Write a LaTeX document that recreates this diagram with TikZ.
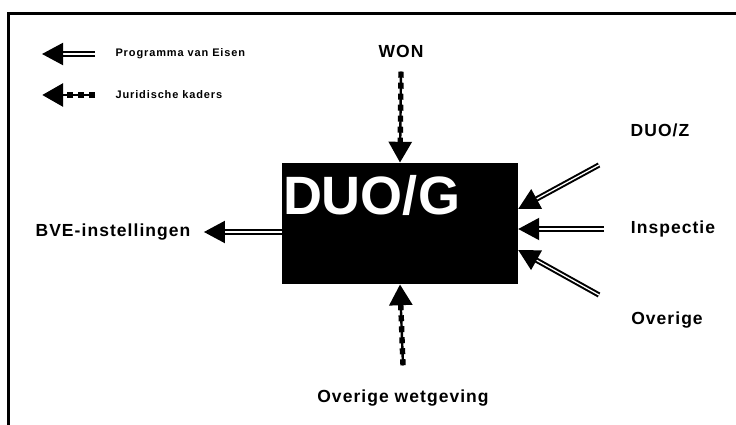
\documentclass[tikz,border=0pt]{standalone}
\usepackage{fontspec}
\setmainfont{Liberation Sans}
\usetikzlibrary{arrows.meta}
\begin{document}
\begin{tikzpicture}[x=1pt,y=-1pt,
        lbl/.style={font=\bfseries\fontsize{17.5}{20}\selectfont\addfontfeatures{LetterSpace=6}},
        small/.style={anchor=west,font=\bfseries\fontsize{11}{13}\selectfont\addfontfeatures{LetterSpace=8}},
        pve/.style={line width=2pt,double=white,double distance=1.3pt,-{Triangle[length=21pt,width=22pt]}},
        jur/.style={line width=5.4pt,dash pattern=on 6pt off 5pt,-{Triangle[length=21pt,width=22pt]},
            preaction={draw,solid,line width=2.4pt,-,shorten >=12pt}}]
    \useasboundingbox (0,0) rectangle (736,425);
    % frame
    \draw[line width=3pt] (8,430) -- (8,14) -- (745,14);
    % legend
    \node[small] (pvel) at (112,54) {Programma van Eisen};
    \node[small] (jurl) at (112,95) {Juridische kaders};
    \coordinate (pvetip) at (42,54);
    \coordinate (jurtip) at (42,95);
    \draw[pve] ([xshift=-17pt]pvel.west) -- (pvetip);
    \draw[jur] ([xshift=-17pt]jurl.west) -- (jurtip);
    % centre box
    \node[fill=black,minimum width=236pt,minimum height=121pt,inner sep=0] (duog) at (400,223.5) {};
    \node[anchor=north west,inner sep=0,text=white,font=\bfseries\fontsize{54}{60}\selectfont] (duogt) at ([shift={(1pt,-12pt)}]duog.north west) {DUO/G};
    % labels
    \node[lbl] (won) at (401,51) {WON};
    \node[lbl] (ovw) at (403,398) {Overige wetgeving};
    \node[lbl] (bve) at (113,232) {BVE-instellingen};
    \node[lbl] (duoz) at (660,130) {DUO/Z};
    \node[lbl] (insp) at (673,229) {Inspectie};
    \node[lbl] (over) at (667,320) {Overige};
    % tails and tips
    \coordinate (duozt) at (599,165);
    \coordinate (inspt) at (604,229);
    \coordinate (overt) at (599,295);
    \coordinate (duozh) at ([yshift=14.5pt]duog.east);
    \coordinate (overh) at ([yshift=-26.5pt]duog.east);
    % connectors
    \draw[jur] ([yshift=-11pt]won.south) -- (duog.north);
    \draw[jur] ([yshift=21pt]ovw.north) -- (duog.south);
    \draw[pve,shorten >=10pt] (duog.west |- bve) -- (bve.east);
    \draw[pve] (duozt) -- (duozh);
    \draw[pve] (inspt) -- (duog.east |- insp);
    \draw[pve] (overt) -- (overh);
\end{tikzpicture}
\end{document}
